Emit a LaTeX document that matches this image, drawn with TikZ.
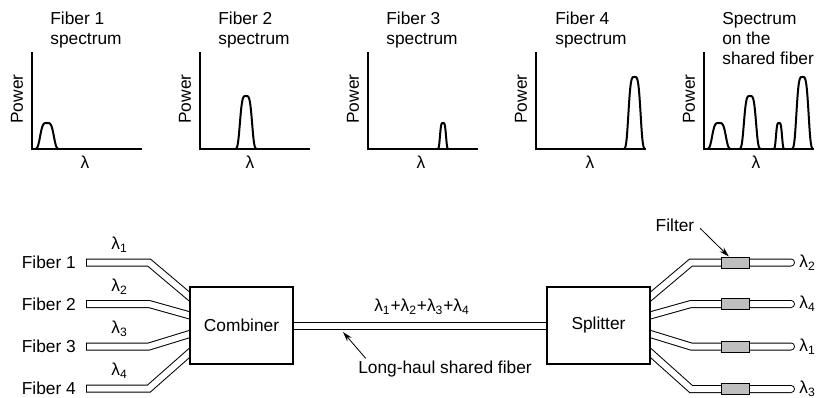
\documentclass[tikz,border=0pt]{standalone}
\usepackage{fontspec}
\setmainfont{Liberation Sans}
\usetikzlibrary{positioning,calc,backgrounds,arrows.meta}

\tikzset{
  axisline/.style={line width=0.8pt},
  peakline/.style={line width=1.2pt, line join=round},
  title/.style={anchor=north west, align=left, inner sep=0pt},
  fiber/.style={line width=0.6pt, double=white, double distance=3.6pt},
  infiber/.style={fiber, line cap=rect},
  outfiber/.style={fiber, line cap=round},
  box/.style={draw, line width=0.7pt, fill=white, minimum width=61.8pt, minimum height=46.2pt},
  filterbox/.style={draw, line width=0.6pt, fill=black!25, minimum width=16.8pt, minimum height=6.6pt, inner sep=0pt},
  arr/.style={-{Stealth[length=6pt,width=3.5pt]}, line width=0.5pt}
}

% one peak of a spectrum: centre, height, width^2, half base
\newcommand{\specpeak}[4]{\draw[peakline] plot[domain=-#4:#4, samples=41, smooth] ({#1+\x},{149-#2*exp(-(\x*\x/#3)^2)});}

\begin{document}
\begin{tikzpicture}[x=0.6pt, y=-0.6pt, font=\fontsize{10.4}{12}\selectfont]
  \useasboundingbox (0,0) rectangle (816,398);

  %Spectra
  \foreach \ax/\lx/\nm in {32/85/1, 200/250/2, 368/421/3, 536/590/4, 704/756/5} {
    \draw[axisline] (\ax,52) -- (\ax,149) -- ++(110,0);
    \node[rotate=90] (pw\nm) at (\ax-15,99) {Power};
    \node (lam\nm) at (\lx,162) {λ};
  }
  \node[title] (t1) at (50,12) {Fiber 1\\spectrum};
  \node[title] (t2) at (218,12) {Fiber 2\\spectrum};
  \node[title] (t3) at (386,12) {Fiber 3\\spectrum};
  \node[title] (t4) at (555,12) {Fiber 4\\spectrum};
  \node[title] (t5) at (722,12) {Spectrum\\on the\\shared fiber};

  \specpeak{47}{26}{56}{12}
  \specpeak{246}{53}{44}{11}
  \specpeak{443}{26}{11}{5.5}
  \specpeak{634.5}{72}{44}{10.5}
  \specpeak{719}{26}{56}{12}
  \specpeak{750}{53}{44}{11}
  \specpeak{779}{26}{11}{5.5}
  \specpeak{802.5}{72}{44}{10.5}

  %Boxes
  \node[box] (comb) at (241.5,325.5) {Combiner};
  \node[box] (split) at (598.5,325.5) {Splitter};

  %Inputs
  \foreach \i/\y/\f in {1/262.5/0.13, 2/304/0.37, 3/346.5/0.61, 4/388.5/0.85} {
    \coordinate (in\i) at (90,\y);
    \coordinate (k\i) at (149,\y);
    \coordinate (c\i) at ($(comb.north west)!\f!(comb.south west)$);
    \node[left=5pt of in\i] (fib\i) {Fiber \i};
    \path (in\i) -- (k\i) node[midway, yshift=10.5pt] (lin\i) {λ\textsubscript{\i}};
  }

  %Outputs
  \foreach \i/\y/\f in {1/262.5/0.13, 2/304/0.37, 3/346.5/0.61, 4/389/0.85} {
    \coordinate (s\i) at ($(split.north east)!\f!(split.south east)$);
    \coordinate (m\i) at (691,\y);
    \coordinate (o\i) at (791,\y);
  }

  \begin{pgfonlayer}{background}
    \foreach \i in {1,...,4} {
      \draw[infiber] (in\i) -- (k\i) -- ($(k\i)!1.2!(c\i)$);
      \draw[outfiber] ($(m\i)!1.2!(s\i)$) -- (m\i) -- (o\i);
    }
    \draw[fiber] (comb.east) -- (split.west);
  \end{pgfonlayer}

  \foreach \i/\w in {1/2, 2/4, 3/1, 4/3} {
    \node[filterbox] (filt\i) at ($(m\i)!0.44!(o\i)$) {};
    \node[anchor=west, inner sep=0pt] (lout\i) at ($(o\i)+(8,0)$) {λ\textsubscript{\w}};
  }

  %Labels
  \node (sum) at (422,307) {λ\textsubscript{1}+λ\textsubscript{2}+λ\textsubscript{3}+λ\textsubscript{4}};
  \node (lh) at (445,369) {Long-haul shared fiber};
  \coordinate (lhtip) at (343,332);
  \draw[arr] ([xshift=8pt,yshift=-2pt]lh.north west) -- (lhtip);

  \node (filtlab) at (675,225) {Filter};
  \draw[arr] ([yshift=-2pt]filtlab.east) -- ([xshift=5pt]filt1.north west);
\end{tikzpicture}
\end{document}
